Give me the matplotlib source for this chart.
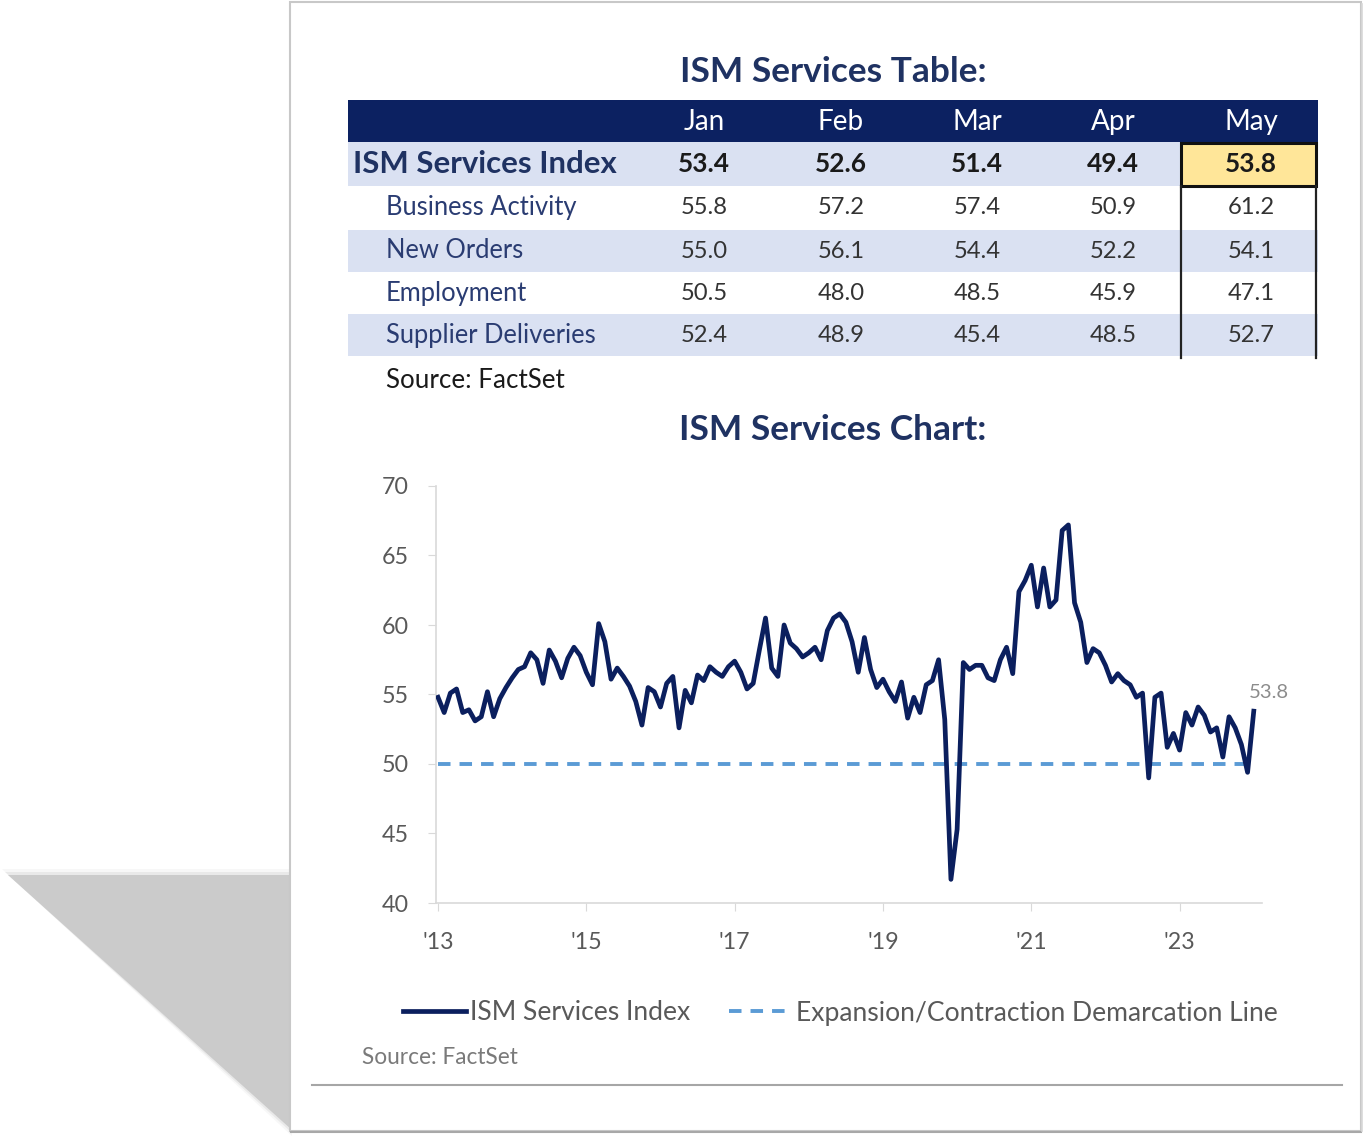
import matplotlib
matplotlib.use("Agg")
import matplotlib.pyplot as plt
from matplotlib.patches import Rectangle, Polygon

plt.rcParams['font.family'] = ['Lato', 'DejaVu Sans']
plt.rcParams['lines.scale_dashes'] = False

# ---------------- data ----------------
months = ["Jan", "Feb", "Mar", "Apr", "May"]
row_labels = ["ISM Services Index", "Business Activity", "New Orders",
              "Employment", "Supplier Deliveries"]
ism_row = [53.4, 52.6, 51.4, 49.4, 53.8]
business_activity = [55.8, 57.2, 57.4, 50.9, 61.2]
new_orders = [55.0, 56.1, 54.4, 52.2, 54.1]
employment = [50.5, 48.0, 48.5, 45.9, 47.1]
supplier_deliveries = [52.4, 48.9, 45.4, 48.5, 52.7]

# monthly ISM Services index, May 2013 .. May 2024
ism_index = [
    54.8, 53.7, 55.1, 55.4, 53.7, 53.9, 53.1, 53.4, 55.2, 53.4,
    54.7, 55.5, 56.2, 56.8, 57.0, 58.0, 57.5, 55.8, 58.2, 57.4,
    56.2, 57.6, 58.4, 57.8, 56.6, 55.7, 60.1, 58.8, 56.1, 56.9,
    56.3, 55.6, 54.5, 52.8, 55.5, 55.2, 54.1, 55.8, 56.3, 52.6,
    55.3, 54.4, 56.4, 56.0, 57.0, 56.6, 56.3, 57.0, 57.4, 56.6,
    55.4, 55.8, 58.2, 60.5, 56.9, 56.3, 60.0, 58.7, 58.3, 57.7,
    58.0, 58.4, 57.5, 59.6, 60.5, 60.8, 60.2, 58.8, 56.6, 59.1,
    56.8, 55.5, 56.1, 55.2, 54.5, 55.9, 53.3, 54.8, 53.7, 55.7,
    56.0, 57.5, 53.2, 41.7, 45.3, 57.3, 56.8, 57.1, 57.1, 56.2,
    56.0, 57.5, 58.4, 56.5, 62.4, 63.2, 64.3, 61.3, 64.1, 61.3,
    61.8, 66.8, 67.2, 61.6, 60.2, 57.3, 58.3, 58.0, 57.1, 55.9,
    56.5, 56.0, 55.7, 54.8, 55.1, 49.0, 54.8, 55.1, 51.2, 52.2,
    51.0, 53.7, 52.8, 54.1, 53.5, 52.3, 52.6, 50.5, 53.4, 52.6,
    51.4, 49.4, 53.8,
]
x_tick_labels = ["'13", "'15", "'17", "'19", "'21", "'23"]
x_tick_step = 24
y_ticks = [40, 45, 50, 55, 60, 65, 70]
threshold = 50
series_label = "ISM Services Index"
threshold_label = "Expansion/Contraction Demarcation Line"

# ---------------- figure ----------------
W, H = 1366, 1144
fig = plt.figure(figsize=(W / 100, H / 100), dpi=100)
renderer = fig.canvas.get_renderer()
PT = 100 / 72.0  # px per point


def fit(s, target_px, weight="normal"):
    t = fig.text(0, 0, s, fontsize=20, fontweight=weight)
    w = t.get_window_extent(renderer=renderer).width
    t.remove()
    return 20 * target_px / w


NAVY = "#0C2161"
TITLE = "#1F3262"
LAV = "#DAE1F2"
GRAY = "#595959"

ax0 = fig.add_axes([0, 0, 1, 1])
ax0.set_xlim(0, W)
ax0.set_ylim(H, 0)
ax0.axis("off")

# shadow
for grow, a in [(6, 0.15), (3, 0.3), (0, 1.0)]:
    ax0.add_patch(Polygon([(8 - grow, 875 - grow), (292, 875 - grow), (292, 1130 + grow)],
                          closed=True, facecolor="#CBCBCB", edgecolor="none", alpha=a))
# page
ax0.add_patch(Rectangle((290, 2), 1071, 1129, facecolor="white", edgecolor="#C8C8C8", lw=1.5))
ax0.plot([291, 1361], [1132, 1132], color="#A8A8A8", lw=1.5)
ax0.plot([1362, 1362], [4, 1131], color="#D8D8D8", lw=1.2)

# titles
fs_title = fit("ISM Services Table:", 307, "bold")
ax0.text(833, 72, "ISM Services Table:", fontsize=fs_title, fontweight="bold",
         color=TITLE, ha="center", va="center")
ax0.text(833, 430, "ISM Services Chart:", fontsize=fs_title, fontweight="bold",
         color=TITLE, ha="center", va="center")

# table
TL, TR = 348, 1318
ax0.add_patch(Rectangle((TL, 100), TR - TL, 42, facecolor=NAVY, edgecolor="none"))
bounds = [142, 186, 230, 272, 314, 356]
fills = [LAV, "white", LAV, "white", LAV]
for i in range(5):
    ax0.add_patch(Rectangle((TL, bounds[i]), TR - TL, bounds[i + 1] - bounds[i],
                            facecolor=fills[i], edgecolor="none"))
col_x = [704, 841, 977, 1113, 1251]
fs_head = fit("May", 54)
for cx, m in zip(col_x, months):
    ax0.text(cx, 122, m, fontsize=fs_head, color="white", ha="center", va="center")

rows = [ism_row, business_activity, new_orders, employment, supplier_deliveries]
fs_bold_lab = fit(row_labels[0], 264, "bold")
fs_lab = fit("Supplier Deliveries", 211)
fs_val = fit("55.8", 47)
fs_bval = fit("53.4", 52, "bold")
# highlight May cell
ax0.add_patch(Rectangle((1181, 143), 135, 43, facecolor="#FFE699", edgecolor="#111111", lw=2.2, zorder=3))
ax0.plot([1181, 1181], [186, 358], color="#222222", lw=1.6, zorder=3)
ax0.plot([1316, 1316], [186, 358], color="#222222", lw=1.6, zorder=3)
for i, (lab, vals) in enumerate(zip(row_labels, rows)):
    cy = (bounds[i] + bounds[i + 1]) / 2
    if i == 0:
        ax0.text(353, cy, lab, fontsize=fs_bold_lab, fontweight="bold", color=TITLE,
                 ha="left", va="center")
        for cx, v in zip(col_x, vals):
            ax0.text(cx, cy, f"{v:.1f}", fontsize=fs_bval, fontweight="bold",
                     color="#1A1A1A", ha="center", va="center", zorder=4)
    else:
        ax0.text(386, cy, lab, fontsize=fs_lab, color="#2A3C72", ha="left", va="center")
        for cx, v in zip(col_x, vals):
            ax0.text(cx, cy, f"{v:.1f}", fontsize=fs_val, color="#333333",
                     ha="center", va="center", zorder=4)
ax0.text(386, 380, "Source: FactSet", fontsize=fit("Source: FactSet", 179),
         color="#1A1A1A", ha="left", va="center")

# ---------------- chart ----------------
n = len(ism_index)
x0_px, ppm = 438, 6.18
left_px, right_px, top_px, bot_px = 436, 1262, 486, 903
ax = fig.add_axes([left_px / W, 1 - bot_px / H, (right_px - left_px) / W, (bot_px - top_px) / H])
ax.set_facecolor("none")
ax.set_xlim((left_px - x0_px) / ppm, (right_px - x0_px) / ppm)
ax.set_ylim(min(y_ticks), max(y_ticks))
idx = list(range(n))
ln, = ax.plot(idx, ism_index, color="#0B1F5E", lw=3.4, solid_joinstyle="round",
              label=series_label, zorder=3)
hl = ax.hlines(threshold, 0, n - 1, colors="#5B9BD5", lw=2.8,
               linestyles=[(0, (9.0, 6.5))], label=threshold_label, zorder=2)

for s in ["top", "right"]:
    ax.spines[s].set_visible(False)
for s in ["left", "bottom"]:
    ax.spines[s].set_color("#D9D9D9")
    ax.spines[s].set_linewidth(1.2)
ax.set_yticks(y_ticks)
ax.set_xticks(list(range(0, n, x_tick_step))[:len(x_tick_labels)])
ax.set_xticklabels(x_tick_labels)
fs_tick = fit("70", 27)
ax.tick_params(axis="y", length=8 / PT, color="#D9D9D9", labelcolor=GRAY,
               labelsize=fs_tick, pad=14)
ax.tick_params(axis="x", length=8 / PT, color="#D9D9D9", labelcolor=GRAY,
               labelsize=fs_tick, pad=15)

ax.annotate(f"{ism_index[-1]:.1f}", xy=(n - 1, ism_index[-1]), xytext=(15 / PT, 19 / PT),
            textcoords="offset points", ha="center", va="center",
            fontsize=fit("53.8", 40), color="#8C8C8C")

fs_leg = fit(series_label, 221)
fpx = fs_leg * PT
fig.legend(handles=[ln, hl], labels=[series_label, threshold_label], loc="center",
           bbox_to_anchor=(840 / W, 1 - 1013 / H), ncol=2, frameon=False,
           fontsize=fs_leg, labelcolor=GRAY, handlelength=63 / fpx,
           handletextpad=4 / fpx, columnspacing=39 / fpx, borderpad=0, borderaxespad=0)

ax0.text(362, 1058, "Source: FactSet", fontsize=fit("Source: FactSet", 156),
         color="#7A7A7A", ha="left", va="center")
ax0.plot([312, 1342], [1085, 1085], color="#A6A6A6", lw=1.5)

fig.savefig("out.png", dpi=100)
